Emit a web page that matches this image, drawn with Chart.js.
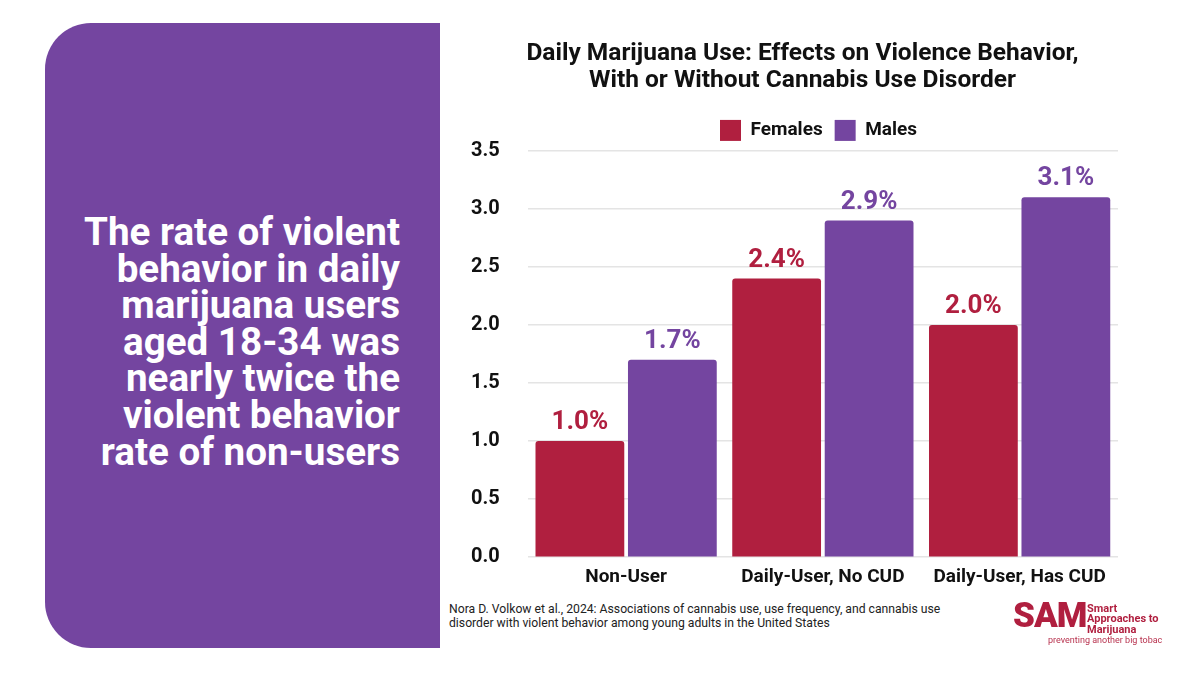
<!DOCTYPE html>
<html>
<head>
<meta charset="utf-8">
<script src="https://cdn.jsdelivr.net/npm/chart.js@4.4.1/dist/chart.umd.min.js"></script>
<style>
  html, body { margin: 0; padding: 0; background: #fff; }
  body { width: 1200px; height: 694px; position: relative; overflow: hidden; font-family: Roboto, "Noto Sans", sans-serif; }
  #panel {
    position: absolute; left: 45px; top: 23px; width: 395px; height: 625px;
    background: #7445a0; border-radius: 46px 0 0 46px;
  }
  #panel p {
    position: absolute; right: 40px; top: 191px; margin: 0; white-space: nowrap;
    color: #fff; font-weight: 700; font-size: 38.6px; line-height: 36.6px; text-align: right;
  }
  #wrap { position: absolute; left: 438px; top: 26px; width: 712px; height: 572px; }
  #source {
    position: absolute; left: 449px; top: 602px; font-size: 12.2px; line-height: 14px; color: #222;
  }
  #logo { position: absolute; left: 1013px; top: 598px; color: #b01f3f; }
  #logo .big { position: absolute; left: 0; top: 0; font-size: 35px; font-weight: 900; letter-spacing: -1px; line-height: 35px; }
  #logo .small { position: absolute; left: 74px; top: 5.5px; font-size: 11px; font-weight: 700; line-height: 10.5px; white-space: nowrap; }
  #logo .tag { position: absolute; left: 35px; top: 37px; font-size: 9px; line-height: 10px; white-space: nowrap; color: #b8334f; }
</style>
</head>
<body>
<div id="panel"><p>The rate of violent<br>behavior in daily<br>marijuana users<br>aged 18-34 was<br>nearly twice the<br>violent behavior<br>rate of non-users</p></div>
<div id="wrap"><canvas id="myChart"></canvas></div>
<div id="source">Nora D. Volkow et al., 2024: Associations of cannabis use, use frequency, and cannabis use<br>disorder with violent behavior among young adults in the United States</div>
<div id="logo">
  <div class="big">SAM</div>
  <div class="small">Smart<br>Approaches to<br>Marijuana</div>
  <div class="tag">preventing another big tobac</div>
</div>
<script>
const categories = ['Non-User', 'Daily-User, No CUD', 'Daily-User, Has CUD'];
const females = [1.0, 2.4, 2.0];
const males = [1.7, 2.9, 3.1];
const yTicks = [0, 0.5, 1.0, 1.5, 2.0, 2.5, 3.0, 3.5];

const femaleColor = '#b01f3f';
const maleColor = '#7445a0';

// draws the "x.x%" numbers above each bar
const barLabels = {
  id: 'barLabels',
  afterDatasetsDraw(chart) {
    const ctx = chart.ctx;
    ctx.save();
    ctx.font = 'bold 26px Roboto';
    ctx.textAlign = 'center';
    ctx.textBaseline = 'alphabetic';
    chart.data.datasets.forEach((ds, i) => {
      chart.getDatasetMeta(i).data.forEach((bar, j) => {
        ctx.fillStyle = ds.backgroundColor;
        ctx.fillText(ds.data[j].toFixed(1) + '%', bar.x, bar.y - 12);
      });
    });
    ctx.restore();
  }
};

// title and legend in the original sit a bit right of the canvas centre
const nudge = {
  id: 'nudge',
  afterLayout(chart) {
    chart.titleBlock.left += 22;
    chart.titleBlock.right += 22;
    chart.legend.left += 38;
    chart.legend.right += 38;
  }
};

const ctx = document.getElementById('myChart');
const myChart = new Chart(ctx, {
  type: 'bar',
  data: {
    labels: categories,
    datasets: [{
      label: 'Females',
      data: females,
      backgroundColor: femaleColor,
      borderRadius: { topLeft: 3, topRight: 3 },
      borderSkipped: 'bottom'
    }, {
      label: 'Males',
      data: males,
      backgroundColor: maleColor,
      borderRadius: { topLeft: 3, topRight: 3 },
      borderSkipped: 'bottom'
    }]
  },
  plugins: [barLabels, nudge],
  options: {
    responsive: true,
    maintainAspectRatio: false,
    animation: false,
    categoryPercentage: 0.94,
    barPercentage: 0.96,
    layout: { padding: { left: 5, right: 32, top: 0, bottom: 0 } },
    plugins: {
      title: {
        display: true,
        text: ['Daily Marijuana Use: Effects on Violence Behavior,', 'With or Without Cannabis Use Disorder'],
        color: '#111',
        font: { family: 'Roboto', size: 24.5, weight: 'bold', lineHeight: 1.08 },
        padding: { top: 15, bottom: 14 }
      },
      legend: {
        labels: {
          color: '#111',
          font: { family: 'Roboto', size: 19, weight: 'bold' },
          boxWidth: 21,
          boxHeight: 21,
          padding: 12
        }
      },
      tooltip: { enabled: false }
    },
    scales: {
      x: {
        grid: { display: false, drawTicks: false },
        border: { display: false },
        ticks: { color: '#111', font: { family: 'Roboto', size: 19, weight: 'bold' }, padding: 9 }
      },
      y: {
        min: 0,
        max: 3.5,
        afterBuildTicks: (axis) => { axis.ticks = yTicks.map(v => ({ value: v })); },
        grid: { color: '#e4e4e4', lineWidth: 1.5, drawTicks: false },
        border: { display: false },
        ticks: {
          color: '#111',
          font: { family: 'Roboto', size: 20, weight: 'bold' },
          padding: 28,
          callback: (v) => Number(v).toFixed(1)
        }
      }
    }
  }
});
</script>
</body>
</html>
